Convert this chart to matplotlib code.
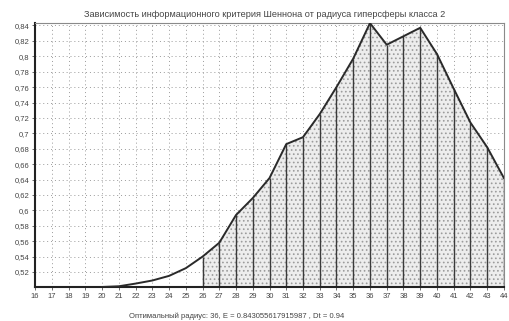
import matplotlib
matplotlib.use("Agg")
import matplotlib.pyplot as plt
import numpy as np

# Shannon information criterion vs. hypersphere radius (class 2)
radius = [20, 21, 22, 23, 24, 25, 26, 27, 28, 29, 30, 31, 32,
          33, 34, 35, 36, 37, 38, 39, 40, 41, 42, 43, 44]
criterion = [0.5006, 0.5015, 0.505, 0.509, 0.515, 0.525, 0.540, 0.558,
             0.594, 0.616, 0.642, 0.686, 0.695, 0.725, 0.760, 0.797,
             0.843056, 0.815, 0.826, 0.837, 0.803, 0.758, 0.714, 0.682,
             0.642]
# radii for which the vertical bars / shaded area are drawn
shade_from = 26

x_ticks = list(range(16, 45))
y_ticks = [0.52, 0.54, 0.56, 0.58, 0.60, 0.62, 0.64, 0.66, 0.68, 0.70,
           0.72, 0.74, 0.76, 0.78, 0.80, 0.82, 0.84]
y_tick_labels = ["0,52", "0,54", "0,56", "0,58", "0,6", "0,62", "0,64",
                 "0,66", "0,68", "0,7", "0,72", "0,74", "0,76", "0,78",
                 "0,8", "0,82", "0,84"]

title = "Зависимость информационного критерия Шеннона от радиуса гиперсферы класса 2"
caption = "Оптимальный радиус: 36, E = 0.843055617915987 , Dt = 0.94"

plt.rcParams["font.family"] = ["Liberation Sans", "DejaVu Sans"]
plt.rcParams["hatch.linewidth"] = 0.7

fig = plt.figure(figsize=(5.09, 3.21), dpi=100)
ax = fig.add_axes([0.069, 0.106, 0.921, 0.822])

xs = np.array(radius)
ys = np.array(criterion)
ymin = min(criterion)
ymax = max(criterion)

# shaded area under the curve
mask = xs >= shade_from
ax.fill_between(xs[mask], ymin, ys[mask], facecolor="#ededed",
                edgecolor="#9c9c9c", hatch="....", linewidth=0, zorder=1)

# vertical bars
ax.vlines(xs[mask], ymin, ys[mask], colors="#3a3a3a", linewidth=1.0, zorder=2)

# curve
ax.plot(xs, ys, color="#2a2a2a", linewidth=1.4, zorder=3)

ax.set_xlim(16, 44)
ax.set_ylim(ymin, ymax)

ax.set_xticks(x_ticks)
ax.set_xticklabels([str(v) for v in x_ticks])
ax.set_yticks(y_ticks)
ax.set_yticklabels(y_tick_labels)
ax.tick_params(axis="both", labelsize=5.5, colors="#555555",
               labelcolor="#444444", length=2, width=0.6, pad=2)

ax.grid(True, linestyle=(0, (1, 3)), color="#9a9a9a", linewidth=0.7, zorder=0)
ax.set_axisbelow(True)

for side in ("left", "bottom"):
    ax.spines[side].set_color("#222222")
    ax.spines[side].set_linewidth(1.5)
for side in ("top", "right"):
    ax.spines[side].set_color("#8a8a8a")
    ax.spines[side].set_linewidth(0.8)

fig.text(0.52, 0.955, title, ha="center", va="center", fontsize=6.6,
         color="#444444")
fig.text(0.465, 0.015, caption, ha="center", va="center", fontsize=5.5,
         color="#444444")

fig.savefig("out.png", dpi=100, facecolor="white")
